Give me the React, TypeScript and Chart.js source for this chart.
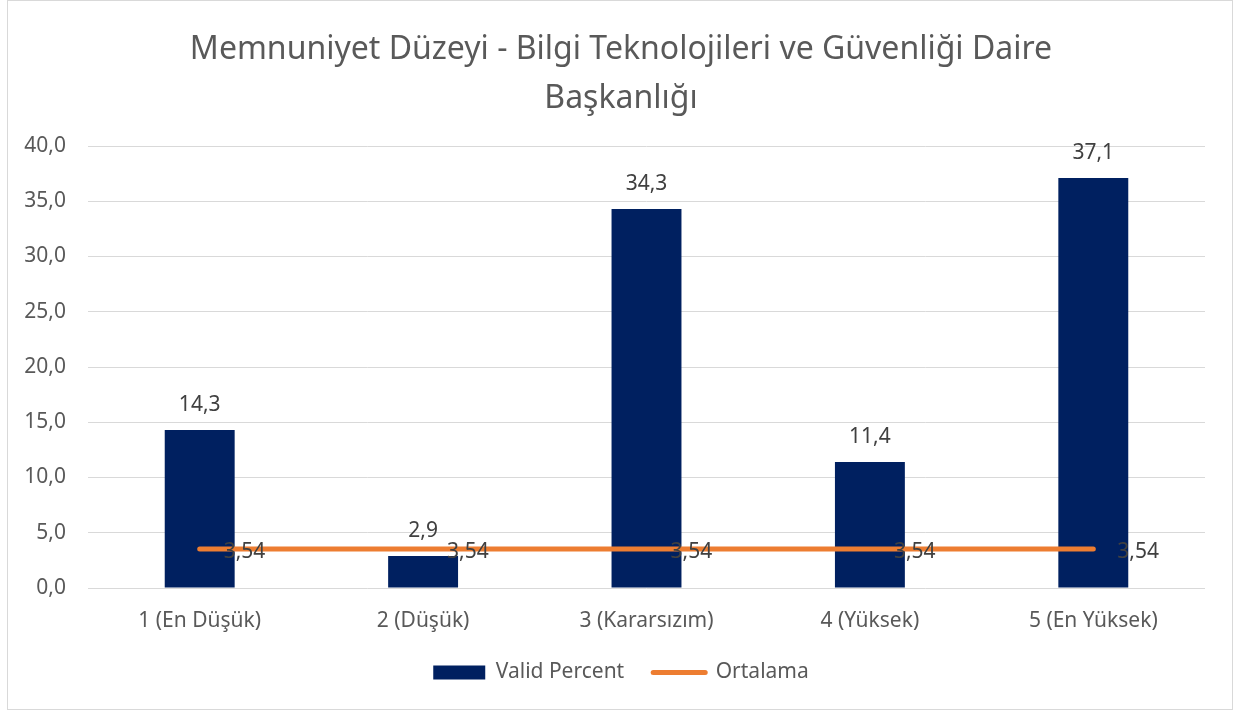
import React, { useEffect, useRef } from "react";
import { Chart, registerables } from "chart.js";

Chart.register(...registerables);

const categories = ["1 (En Düşük)", "2 (Düşük)", "3 (Kararsızım)", "4 (Yüksek)", "5 (En Yüksek)"];
const validPercent = [14.3, 2.9, 34.3, 11.4, 37.1];
const ortalama = [3.54, 3.54, 3.54, 3.54, 3.54];
const titleLines = ["Memnuniyet Düzeyi - Bilgi Teknolojileri ve Güvenliği Daire", "Başkanlığı"];
const seriesNames = ["Valid Percent", "Ortalama"];

const FONT = "'Noto Sans', 'Open Sans', sans-serif";
const NAVY = "#002060";
const ORANGE = "#ED7D31";
const AXIS_TEXT = "#595959";
const LABEL_TEXT = "#404040";

const fmt1 = (v: number) => v.toFixed(1).replace(".", ",");
const fmt2 = (v: number) => v.toFixed(2).replace(".", ",");

const labelsPlugin = {
  id: "dataLabels",
  afterDatasetsDraw(chart: any) {
    const ctx = chart.ctx;
    ctx.save();
    ctx.font = `21px ${FONT}`;
    ctx.fillStyle = LABEL_TEXT;
    const barMeta = chart.getDatasetMeta(0);
    ctx.textAlign = "center";
    ctx.textBaseline = "middle";
    barMeta.data.forEach((el: any, i: number) => {
      ctx.fillText(fmt1(validPercent[i]), el.x, el.y - 25);
    });
    const lineMeta = chart.getDatasetMeta(1);
    ctx.textAlign = "left";
    lineMeta.data.forEach((el: any, i: number) => {
      ctx.fillText(fmt2(ortalama[i]), el.x + 24, el.y + 3);
    });
    ctx.restore();
  },
};

const borderPlugin = {
  id: "outerBorder",
  afterDraw(chart: any) {
    const ctx = chart.ctx;
    ctx.save();
    ctx.strokeStyle = "#d9d9d9";
    ctx.lineWidth = 1;
    ctx.strokeRect(7.5, 0.5, 1225, 709);
    ctx.restore();
  },
};

export default function App() {
  const ref = useRef<HTMLCanvasElement | null>(null);
  useEffect(() => {
    if (!ref.current) return;
    const chart = new Chart(ref.current, {
      type: "bar",
      data: {
        labels: categories,
        datasets: [
          {
            type: "bar",
            label: seriesNames[0],
            data: validPercent,
            backgroundColor: NAVY,
            borderWidth: 0,
            barPercentage: 1,
            categoryPercentage: 0.313,
            order: 2,
          } as any,
          {
            type: "line",
            label: seriesNames[1],
            data: ortalama,
            borderColor: ORANGE,
            backgroundColor: ORANGE,
            borderWidth: 5,
            borderCapStyle: "round",
            pointRadius: 0,
            pointHoverRadius: 0,
            tension: 0,
            order: 1,
          } as any,
        ],
      },
      options: {
        responsive: false,
        animation: false,
        devicePixelRatio: 1,
        layout: { padding: { left: 18, right: 10, top: 0, bottom: 18 } },
        plugins: {
          tooltip: { enabled: false },
          title: {
            display: true,
            text: titleLines,
            color: AXIS_TEXT,
            font: { family: FONT, size: 32, weight: "normal", lineHeight: 49 / 32 },
            padding: { top: 25, bottom: 23 },
          },
          legend: {
            display: true,
            position: "bottom",
            labels: {
              usePointStyle: true,
              pointStyleWidth: 52,
              boxHeight: 14,
              padding: 29,
              color: AXIS_TEXT,
              font: { family: FONT, size: 21 },
              generateLabels: () => [
                {
                  text: seriesNames[0],
                  fillStyle: NAVY,
                  strokeStyle: NAVY,
                  lineWidth: 0,
                  pointStyle: "rect",
                  datasetIndex: 0,
                  hidden: false,
                  fontColor: AXIS_TEXT,
                } as any,
                {
                  text: seriesNames[1],
                  fillStyle: ORANGE,
                  strokeStyle: ORANGE,
                  lineWidth: 5,
                  lineCap: "round",
                  pointStyle: "line",
                  datasetIndex: 1,
                  hidden: false,
                  fontColor: AXIS_TEXT,
                } as any,
              ],
            },
          },
        },
        scales: {
          x: {
            offset: true,
            grid: { display: false, drawTicks: false },
            border: { display: false },
            ticks: { color: AXIS_TEXT, font: { family: FONT, size: 21 }, padding: 20, maxRotation: 0 },
            afterFit: (s: any) => {
              s.height = 45;
            },
          },
          y: {
            min: 0,
            max: 40,
            grid: { color: "#d9d9d9", lineWidth: 1, drawTicks: false },
            border: { display: false },
            ticks: {
              stepSize: 5,
              color: AXIS_TEXT,
              font: { family: FONT, size: 21 },
              padding: 22,
              callback: (v: any) => fmt1(Number(v)),
            },
            afterFit: (s: any) => {
              s.width = 70;
            },
          },
          yRight: {
            position: "right",
            display: true,
            min: 0,
            max: 40,
            grid: { display: false, drawTicks: false },
            border: { display: false },
            ticks: { display: false },
            afterFit: (s: any) => {
              s.width = 19;
            },
          },
        },
      },
      plugins: [labelsPlugin, borderPlugin],
    });
    return () => chart.destroy();
  }, []);
  return (
    <div style={{ position: "absolute", left: 0, top: 0, width: 1234, height: 711, background: "#fff" }}>
      <canvas ref={ref} width={1234} height={711} style={{ width: 1234, height: 711, display: "block" }} />
    </div>
  );
}
